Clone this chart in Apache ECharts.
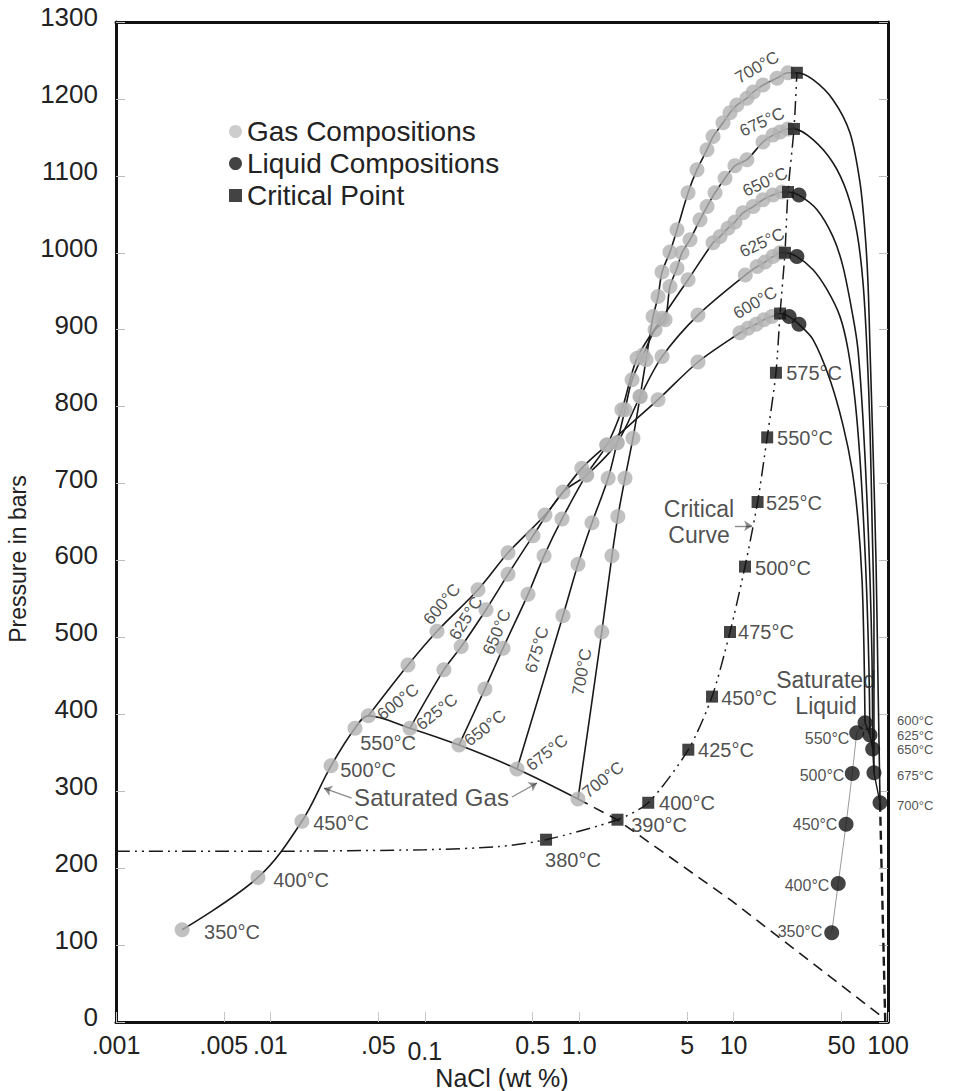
<!DOCTYPE html>
<html><head><meta charset="utf-8">
<script src="https://cdn.jsdelivr.net/npm/echarts@6/dist/echarts.min.js"></script>
<style>html,body{margin:0;padding:0;background:#fff}#c{width:954px;height:1091px}</style>
</head><body><div id="c"></div>
<script>
// ---------- axis ticks ----------
const xTickValues = [0.001, 0.005, 0.01, 0.05, 0.1, 0.5, 1, 5, 10, 50, 100];
const xTickLabels = ['.001', '.005', '.01', '.05', '0.1', '0.5', '1.0', '5', '10', '50', '100'];

// ---------- saturated gas (halite-saturated vapour) ----------
const satGasLow = [[0.00268,120],[0.00831,188],[0.0160,261],[0.0247,333],[0.0353,382],[0.0431,398]];
const satGasHigh = [[0.0431,398],[0.0802,382],[0.1665,360],[0.3955,329],[0.982,290]];
const satGasDashed = [[0.982,290],[1.76,263],[9.5,159],[90,8]];

// ---------- isotherms: gas branch (dots), critical point, liquid branch ----------
const gas600 = [[0.0431,398],[0.0778,464],[0.120,508],[0.221,562],[0.346,610],[0.600,659],[1.04,720],[1.51,750],[3.24,809],[5.88,858],[11.0,896],[12.4,902],[14.0,907],[15.7,913],[17.7,917]];
const gas625 = [[0.0802,382],[0.133,458],[0.172,488],[0.249,536],[0.346,582],[0.502,632],[0.785,689],[1.12,711],[1.76,753],[2.48,813],[3.44,865],[5.88,919],[11.9,971],[14.2,982],[16.0,988],[18.0,995],[20.0,1000]];
const gas650 = [[0.1665,360],[0.245,433],[0.321,486],[0.466,556],[0.592,606],[0.774,654],[1.11,711],[1.51,750],[1.89,796],[2.37,863],[3.44,915],[5.07,965],[7.36,1013],[8.17,1021],[9.20,1032],[10.2,1040],[11.5,1052],[13.4,1060],[15.5,1069],[18.0,1075],[20.6,1079]];
const gas675 = [[0.3955,329],[0.785,528],[0.982,595],[1.21,649],[1.54,707],[1.76,753],[1.98,796],[2.20,835],[2.59,867],[3.10,900],[3.60,913],[3.87,956],[4.30,980],[4.63,1000],[5.22,1017],[6.06,1043],[6.73,1060],[7.58,1078],[8.80,1097],[10.2,1113],[12.2,1121],[15.5,1144],[18.0,1153],[20.0,1157],[22.5,1161]];
const gas700 = [[0.982,290],[1.40,507],[1.63,606],[1.78,657],[1.98,707],[2.23,759],[2.48,813],[2.71,861],[3.01,917],[3.24,943],[3.44,975],[3.87,1001],[4.30,1030],[5.07,1078],[5.79,1108],[6.72,1134],[7.36,1151],[8.54,1169],[9.48,1182],[10.5,1192],[12.2,1201],[13.4,1209],[15.5,1218],[19.1,1227],[22.5,1234]];

const critIso = { 600:[20.0,921], 625:[21.5,1000], 650:[22.5,1079], 675:[24.6,1161], 700:[25.7,1234] };

const liq600 = [[22.9,917],[26.5,907],[32.7,887],[42.1,835],[51.1,776],[58.5,718],[63.9,653],[67.9,575],[69.9,484],[71.0,389]];
const liq625 = [[25.7,995],[32.7,978],[40.3,952],[48.9,917],[55.1,874],[61.1,809],[65.9,731],[69.9,640],[73.1,549],[75.3,458],[76.4,373]];
const liq650 = [[26.5,1075],[34.7,1056],[44.0,1021],[51.1,982],[59.3,917],[63.9,874],[68.9,783],[73.1,679],[76.5,575],[78.8,471],[79.6,355]];
const liq675 = [[32.7,1147],[44.0,1117],[54.3,1078],[63.0,1026],[68.9,961],[73.1,874],[76.5,770],[78.8,653],[81.1,523],[81.1,324]];
const liq700 = [[32.7,1225],[44.0,1199],[56.7,1156],[65.9,1091],[71.0,1026],[74.2,961],[76.5,874],[80.0,744],[83.6,601],[86.1,445],[88.8,285]];

// ---------- liquid compositions (black dots) ----------
const liqNearCrit = [[22.9,917],[26.5,907],[25.7,995],[26.5,1075]];
const satLiquid = [[43.2,116],[47.6,180],[53.5,257],[58.7,323],[62.7,376],[71.0,389]];
const satLiquidHot = [[71.0,389],[76.4,373],[79.6,355],[81.1,324],[88.8,285]];
const liqLower = [[88.8,285],[96,0]];

// ---------- critical curve ----------
const critLow = [[0.61,237],[1.77,263],[2.80,285],[5.09,354],[7.25,423],[9.48,507],[11.85,592],[14.3,676],[16.5,760],[18.8,844]];
const critWater = [[0.001,222],[0.01,222],[0.1,224],[0.3,228]];

// ---------- annotations (anchor in data space) ----------
const FONT = "'Liberation Sans', Arial, Helvetica, sans-serif";
const annotations = [
  ['350°C',0.00564,117,20,0], ['400°C',0.0158,185,20,0], ['450°C',0.0287,259,20,0],
  ['500°C',0.0429,328,20,0], ['550°C',0.0578,363,20,0],
  ['600°C',0.0671,416,17,38], ['625°C',0.1199,403,17,38], ['650°C',0.2454,382,17,38],
  ['675°C',0.6185,350,17,38], ['700°C',1.43,315,17,38],
  ['600°C',0.1292,543,17,50], ['625°C',0.1848,525,17,58], ['650°C',0.2935,507,17,67],
  ['675°C',0.533,484,17,74], ['700°C',1.043,455,17,80],
  ['700°C',14.2,1241,17,30], ['675°C',15.3,1170,17,25], ['650°C',16.0,1092,17,25],
  ['625°C',15.3,1013,17,25], ['600°C',13.8,935,17,30],
  ['575°C',33.2,844,20,0], ['550°C',29.0,759,20,0], ['525°C',24.6,675,20,0], ['500°C',20.9,590,20,0],
  ['475°C',16.2,507,20,0], ['450°C',12.6,421,20,0], ['425°C',8.93,354,20,0], ['400°C',4.99,285,20,0],
  ['390°C',3.29,256,20,0], ['380°C',0.912,211,20,0],
  ['550°C',40.3,369,16,0], ['500°C',37.4,320,16,0], ['450°C',33.7,257,16,0],
  ['400°C',29.9,178,16,0], ['350°C',26.9,118,16,0],
  ['Saturated Gas',0.1105,292.5,24,0], ['Critical\nCurve',5.97,650,23,0], ['Saturated\nLiquid',39.7,428,23,0]
];
const rightLabels = [['600°C',392],['625°C',373],['650°C',354],['675°C',321],['700°C',282]];
const arrows = [
  [[0.0336,291],[0.0222,304]],
  [[0.367,292.5],[0.533,310.7]],
  [[10.2,645],[13.2,645]]
];

// ---------- build ----------
const isoT = [600,625,650,675,700];
const gasByT = {600:gas600,625:gas625,650:gas650,675:gas675,700:gas700};
const liqByT = {600:liq600,625:liq625,650:liq650,675:liq675,700:liq700};

const lineBase = {type:'line', showSymbol:false, silent:true, z:2, animation:false};
const series = [];

series.push(Object.assign({}, lineBase, {data: satGasLow.concat(satGasHigh.slice(1)), smooth:0.35,
  lineStyle:{color:'#1a1a1a', width:1.6}}));
series.push(Object.assign({}, lineBase, {data: satGasDashed, lineStyle:{color:'#1a1a1a', width:1.6, type:[11,7]}}));
series.push(Object.assign({}, lineBase, {data: critWater.concat(critLow, isoT.map(t=>critIso[t])), smooth:0.25,
  lineStyle:{color:'#1a1a1a', width:1.5, type:[14,5,2,5,2,5]}}));
isoT.forEach(t => {
  series.push(Object.assign({}, lineBase, {data: gasByT[t].concat([critIso[t]], liqByT[t]), smooth:0.3,
    lineStyle:{color:'#1a1a1a', width:1.6}}));
});
series.push(Object.assign({}, lineBase, {data: satLiquid, lineStyle:{color:'#9a9a9a', width:1}}));
series.push(Object.assign({}, lineBase, {data: satLiquidHot, lineStyle:{color:'#1a1a1a', width:1.4}}));
series.push(Object.assign({}, lineBase, {data: liqLower, lineStyle:{color:'#1a1a1a', width:2.4, type:[9,5]}}));

const gasDots = satGasLow.slice(0,5);
isoT.forEach(t => gasByT[t].forEach(p => gasDots.push(p)));
series.push({name:'Gas Compositions', type:'scatter', symbol:'circle', symbolSize:15, z:5, animation:false,
  itemStyle:{color:'#b2b2b2'}, data: gasDots});
series.push({name:'Liquid Compositions', type:'scatter', symbol:'circle', symbolSize:15, z:6, animation:false,
  itemStyle:{color:'#141414'}, data: liqNearCrit.concat(satLiquid, satLiquidHot.slice(1))});
series.push({name:'Critical Point', type:'scatter', symbol:'rect', symbolSize:12, z:7, animation:false,
  itemStyle:{color:'#141414'}, data: critLow.concat(isoT.map(t=>critIso[t]))});

series.push({type:'scatter', symbolSize:0, silent:true, z:8, animation:false,
  data: annotations.map(a => ({value:[a[1],a[2]], label:{show:true, position:[0,0], align:'center', verticalAlign:'middle',
    formatter:a[0], fontSize:a[3], rotate:a[4], color:'#222', fontFamily:FONT,
    lineHeight: a[3] + 3}}))});
series.push({type:'scatter', symbolSize:0, silent:true, z:8, animation:false,
  data: rightLabels.map(a => ({value:[100,a[1]], label:{show:true, position:'right', distance:9,
    formatter:a[0], fontSize:13, lineHeight:13, color:'#222', fontFamily:FONT}}))});
series.push({type:'lines', coordinateSystem:'cartesian2d', silent:true, z:8, animation:false,
  symbol:['none','arrow'], symbolSize:8, lineStyle:{color:'#1a1a1a', width:1.4},
  data: arrows.map(c => ({coords:c}))});

const frameLine = {show:true, onZero:false, lineStyle:{color:'#111', width:3}};
const chart = echarts.init(document.getElementById('c'), null, {renderer:'svg'});
chart.setOption({
  backgroundColor:'#fff',
  animation:false,
  grid:{left:116, right:66, top:22, bottom:69, containLabel:false, outerBoundsMode:'none', show:false},
  legend:{orient:'vertical', left:224, top:112, itemWidth:13, itemHeight:13, itemGap:3,
    textStyle:{fontSize:28, color:'#222', fontFamily:FONT, lineHeight:29},
    data:[{name:'Gas Compositions', icon:'circle', itemStyle:{color:'#c0c0c0'}},
          {name:'Liquid Compositions', icon:'circle'},
          {name:'Critical Point', icon:'rect'}]},
  xAxis:[
    {type:'log', logBase:10, min:0.001, max:100, axisLine:frameLine, axisTick:{show:false},
     axisLabel:{show:false}, splitLine:{show:false}, minorTick:{show:false},
     name:'NaCl (wt %)', nameLocation:'middle', nameGap:43,
     nameTextStyle:{fontSize:25, color:'#222', fontFamily:FONT}},
    {type:'value', min:-3, max:2, position:'bottom', axisLine:{show:false}, splitLine:{show:false},
     axisTick:{inside:true, length:10, lineStyle:{color:'#c8c8c8', width:1}, customValues: xTickValues.map(v=>Math.log10(v))},
     axisLabel:{margin:10, color:'#222', fontSize:25, fontFamily:FONT,
       customValues: xTickValues.map(v=>Math.log10(v)),
       formatter: v => { const i = xTickValues.findIndex(t => Math.abs(Math.log10(t)-v) < 1e-6);
         const s = i >= 0 ? xTickLabels[i] : ''; return s === '0.1' ? '{low|' + s + '}' : s; },
       rich:{low:{fontSize:25, padding:[6,0,0,0], color:'#222', fontFamily:FONT}}}},
    {type:'value', min:0, max:1, position:'top', axisLine:frameLine, axisTick:{show:false},
     axisLabel:{show:false}, splitLine:{show:false}}
  ],
  yAxis:[
    {type:'value', min:0, max:1300, interval:100, axisLine:frameLine, splitLine:{show:false},
     axisTick:{inside:true, length:9, lineStyle:{color:'#bdbdbd'}},
     axisLabel:{margin:18, fontSize:26, color:'#222', fontFamily:FONT, verticalAlign:'bottom', lineHeight:10,
       formatter: v => String(v)},
     name:'Pressure in bars', nameLocation:'middle', nameGap:80, nameRotate:90,
     nameTextStyle:{fontSize:23, color:'#222', fontFamily:FONT, padding:[0,74,0,0]}},
    {type:'value', min:0, max:1300, interval:100, position:'right', axisLine:frameLine, splitLine:{show:false},
     axisTick:{inside:true, length:9, lineStyle:{color:'#bdbdbd'}}, axisLabel:{show:false}}
  ],
  series: series
});
</script></body></html>
